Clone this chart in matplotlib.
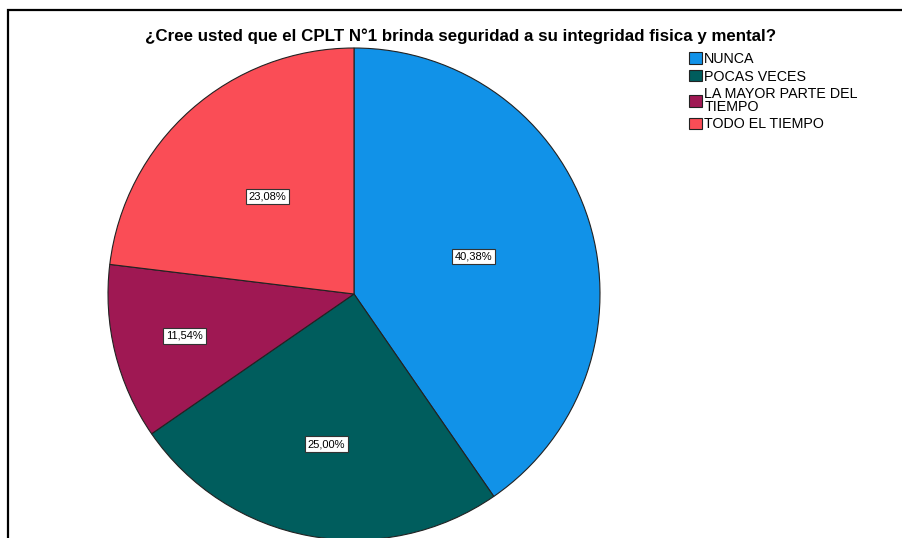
import numpy as np
import matplotlib
matplotlib.use("Agg")
import matplotlib.pyplot as plt
from matplotlib.patches import Rectangle

plt.rcParams['font.family'] = ['Liberation Sans', 'DejaVu Sans']

# data
categories = ["NUNCA", "POCAS VECES", "LA MAYOR PARTE DEL\nTIEMPO", "TODO EL TIEMPO"]
percentages = [40.38, 25.00, 11.54, 23.08]
colors = ["#1192E8", "#005D5D", "#9F1853", "#FA4D56"]
# radial position of each label (fraction of radius)
label_r = [0.51, 0.62, 0.71, 0.53]

W, H = 903, 538
fig = plt.figure(figsize=(W / 100, H / 100), dpi=100)

# outer frame, cut off on right and bottom like the screenshot
fig.add_artist(Rectangle((8 / W, -0.1), 1.2, (H - 10) / H + 0.1,
                         transform=fig.transFigure, fill=False,
                         edgecolor="black", linewidth=1.6))

R = 246
cx, cy = 354, 294
ax = fig.add_axes([(cx - 250) / W, (H - cy - 250) / H, 500 / W, 500 / H])
lim = 250 / R
ax.set_aspect("equal")
ax.axis("off")

wedges, _ = ax.pie(percentages, colors=colors, startangle=90, counterclock=False,
                   radius=1, wedgeprops=dict(edgecolor="#222222", linewidth=0.8))
ax.set_xlim(-lim, lim)
ax.set_ylim(-lim, lim)

for w, p, r in zip(wedges, percentages, label_r):
    ang = np.deg2rad((w.theta1 + w.theta2) / 2)
    ax.text(r * np.cos(ang), r * np.sin(ang), f"{p:.2f}%".replace(".", ","),
            ha="center", va="center", fontsize=8,
            bbox=dict(boxstyle="square,pad=0.25", facecolor="white",
                      edgecolor="#333333", linewidth=0.8))

fig.text(461 / W, 1 - 36 / H,
         "¿Cree usted que el CPLT N°1 brinda seguridad a su integridad fisica y mental?",
         ha="center", va="center", fontsize=12.2, fontweight="bold")

leg = fig.legend(wedges, categories, loc="upper left",
                 bbox_to_anchor=(682 / W, 1 - 45 / H), frameon=False,
                 fontsize=10.3, handlelength=0.9, handleheight=0.85,
                 handletextpad=0.15, labelspacing=0.25, borderpad=0)
for t in leg.get_texts():
    t.set_linespacing(0.85)

fig.savefig("out.png", dpi=100)
